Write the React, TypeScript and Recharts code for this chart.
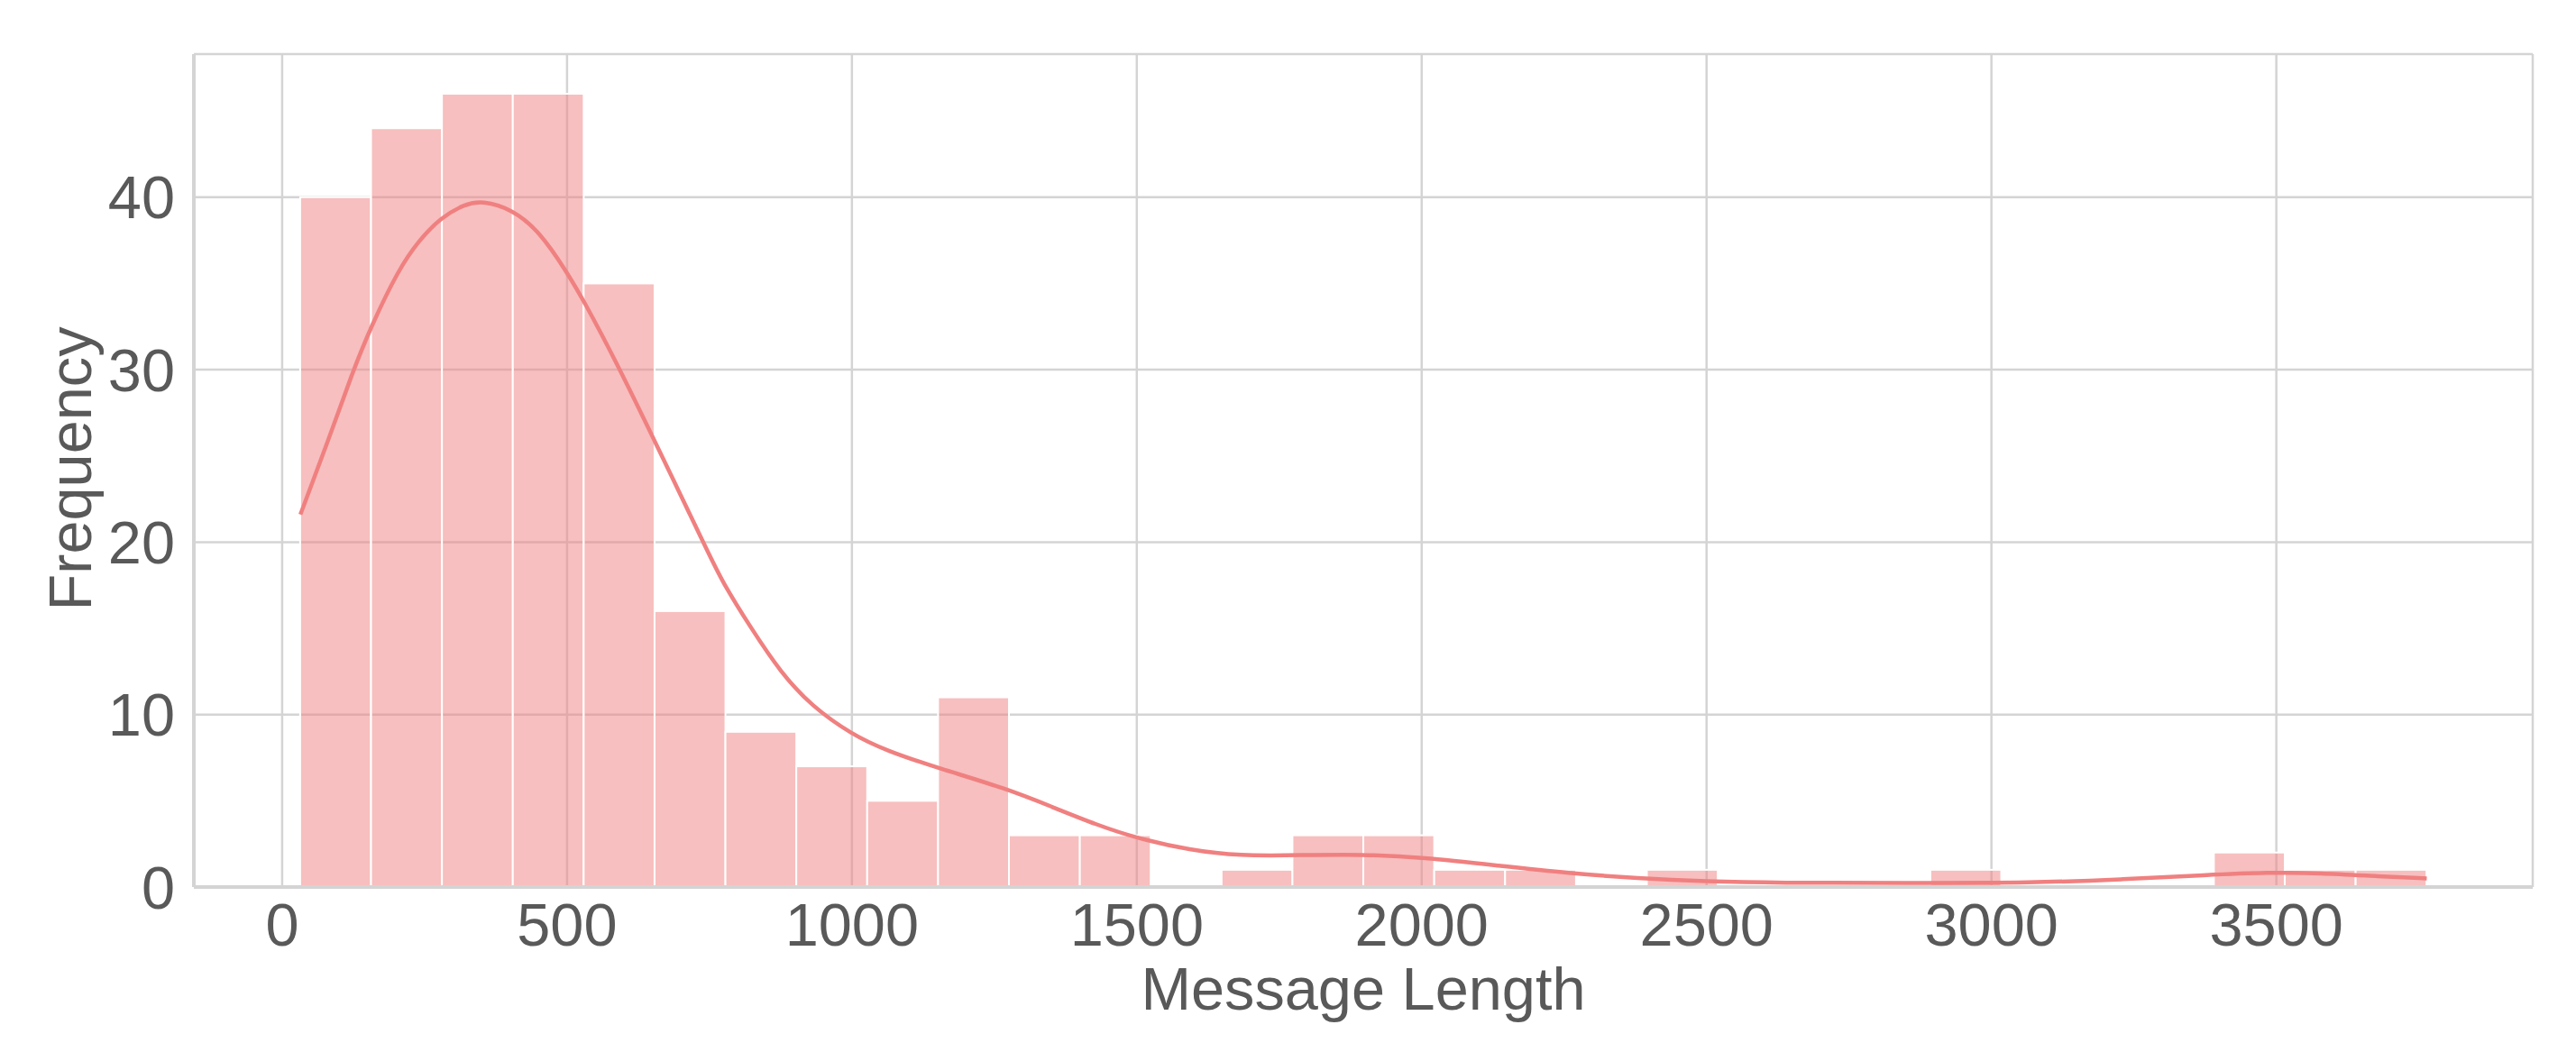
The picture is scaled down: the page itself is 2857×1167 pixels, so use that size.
import React from 'react';
import {
  ComposedChart,
  Bar,
  Line,
  XAxis,
  YAxis,
  CartesianGrid,
  Label
} from 'recharts';

// histogram: 30 equal bins from the shortest to the longest message
const binStart = 31.6;
const binWidth = 124.4;
const binCounts = [
  40, 44, 46, 46, 35, 16, 9, 7, 5, 11,
  3, 3, 0, 1, 3, 3, 1, 1, 0, 1,
  0, 0, 0, 1, 0, 0, 0, 2, 1, 1
];

// kde curve (message length, scaled density)
const kdeX = [
  32, 82, 124, 156, 204, 240, 278, 320, 351, 404,
  452, 499, 531, 584, 652, 752, 771, 823, 876, 929,
  1000, 1061, 1151, 1272, 1351, 1430, 1500, 1594, 1680, 1789,
  1895, 2001, 2137, 2258, 2379, 2500, 2622, 2849, 3076, 3227,
  3379, 3485, 3575, 3681, 3764
];
const kdeY = [
  21.6, 26.0, 29.9, 32.5, 35.8, 37.5, 38.8, 39.6, 39.8, 39.3,
  38.0, 35.7, 33.9, 30.6, 26.0, 19.1, 17.8, 15.0, 12.4, 10.5,
  8.84, 7.9, 6.9, 5.7, 4.65, 3.6, 2.83, 2.13, 1.8, 1.85,
  1.9, 1.72, 1.23, 0.8, 0.5, 0.32, 0.24, 0.24, 0.24, 0.44,
  0.7, 0.85, 0.81, 0.62, 0.5
];

const xTicks = [0, 500, 1000, 1500, 2000, 2500, 3000, 3500];
const yTicks = [0, 10, 20, 30, 40];

const xDomain: [number, number] = [-155, 3950];
const yDomain: [number, number] = [0, 48.3];

const WIDTH = 2857;
const HEIGHT = 1167;
const margin = { top: 60, right: 48, bottom: 0, left: 0 };
const Y_AXIS_W = 215;
const X_AXIS_H = 183;

const FONT = '"Liberation Sans", Arial, Helvetica, sans-serif';
const TEXT = '#595959';
const SPINE = '#d4d4d4';
const COLOR = '#f08080';

const bars = binCounts.map((count, i) => ({
  x: binStart + binWidth * (i + 0.5),
  count
}));
const kde = kdeX.map((x, i) => ({ x, density: kdeY[i] }));

// bar width in px follows the x scale
const plotW = WIDTH - margin.left - margin.right - Y_AXIS_W;
const barPx = (binWidth * plotW) / (xDomain[1] - xDomain[0]);

const tickStyle = { fill: TEXT, fontSize: 66.7, fontFamily: FONT };

// recharts squeezes bars on a number axis, so widen them around their centre
const HistBar = (props: any) => {
  const { x, y, width, height } = props;
  if (!height || height <= 0) return null;
  const cx = x + width / 2;
  return (
    <rect
      x={cx - barPx / 2}
      y={y}
      width={barPx}
      height={height}
      fill={COLOR}
      fillOpacity={0.5}
      stroke="#ffffff"
      strokeWidth={2}
    />
  );
};

const XTitle = (props: any) => {
  const vb = props.viewBox || { x: Y_AXIS_W, y: 984, width: plotW };
  return (
    <text
      x={vb.x + vb.width / 2}
      y={vb.y + 136}
      textAnchor="middle"
      fill={TEXT}
      fontSize={66.7}
      fontFamily={FONT}
    >
      Message Length
    </text>
  );
};

const YTitle = (props: any) => {
  const vb = props.viewBox || { x: 0, y: 60, height: 924 };
  const cx = vb.x + 101;
  const cy = vb.y + vb.height / 2 - 2;
  return (
    <text
      x={cx}
      y={cy}
      transform={`rotate(-90, ${cx}, ${cy})`}
      textAnchor="middle"
      fill={TEXT}
      fontSize={66.7}
      fontFamily={FONT}
    >
      Frequency
    </text>
  );
};

export default function App() {
  return (
    <div style={{ width: WIDTH, height: HEIGHT, background: '#fff' }}>
      <style>{'body{margin:0}'}</style>
      <ComposedChart width={WIDTH} height={HEIGHT} data={bars} margin={margin}>
        <CartesianGrid stroke={SPINE} strokeWidth={2.5} />
        <Bar
          dataKey="count"
          fill={COLOR}
          shape={HistBar}
          isAnimationActive={false}
        />
        <Line
          data={kde}
          dataKey="density"
          type="basis"
          stroke={COLOR}
          strokeWidth={4.5}
          dot={false}
          activeDot={false}
          isAnimationActive={false}
        />
        <XAxis
          dataKey="x"
          type="number"
          domain={xDomain}
          allowDataOverflow
          ticks={xTicks}
          interval={0}
          height={X_AXIS_H}
          tick={tickStyle}
          tickLine={false}
          tickSize={0}
          tickMargin={18}
          axisLine={{ stroke: SPINE, strokeWidth: 4 }}
        >
          <Label content={XTitle} />
        </XAxis>
        <YAxis
          type="number"
          domain={yDomain}
          allowDataOverflow
          ticks={yTicks}
          interval={0}
          width={Y_AXIS_W}
          tick={tickStyle}
          tickLine={false}
          tickSize={0}
          tickMargin={21}
          axisLine={{ stroke: SPINE, strokeWidth: 4 }}
        >
          <Label content={YTitle} />
        </YAxis>
        <XAxis
          xAxisId="top"
          orientation="top"
          type="number"
          domain={xDomain}
          allowDataOverflow
          height={0}
          tick={false}
          tickLine={false}
          axisLine={{ stroke: SPINE, strokeWidth: 4 }}
        />
        <YAxis
          yAxisId="right"
          orientation="right"
          type="number"
          domain={yDomain}
          allowDataOverflow
          width={0}
          tick={false}
          tickLine={false}
          axisLine={{ stroke: SPINE, strokeWidth: 4 }}
        />
      </ComposedChart>
    </div>
  );
}
